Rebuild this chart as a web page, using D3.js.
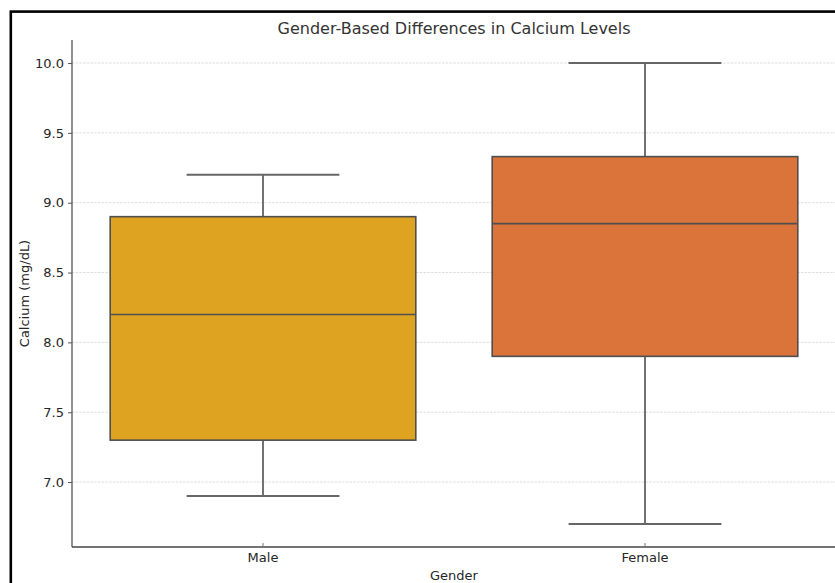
<!DOCTYPE html>
<html><head><meta charset="utf-8">
<script src="https://cdn.jsdelivr.net/npm/d3@7"></script>
<style>body{margin:0;background:#fff}svg{display:block}text{font-family:"DejaVu Sans",sans-serif}</style>
</head><body>
<svg id="c" width="835" height="583"></svg>
<script>
const categories = ["Male", "Female"];
const whiskerLow = [6.9, 6.7];
const q1 = [7.3, 7.9];
const median = [8.2, 8.85];
const q3 = [8.9, 9.33];
const whiskerHigh = [9.2, 10.0];
const colors = ["#dea321", "#da743a"];
const yTicks = [7.0, 7.5, 8.0, 8.5, 9.0, 9.5, 10.0];

const svg = d3.select("#c");
const m = {left: 72, right: 836, top: 40, bottom: 547};

// frame
svg.append("rect").attr("x", 10.8).attr("y", 11.6).attr("width", 900).attr("height", 700)
  .attr("fill", "none").attr("stroke", "#000").attr("stroke-width", 2.6);

const y = d3.scaleLinear().domain([6.535, 10.165]).range([m.bottom, m.top]);
const x = d3.scaleBand().domain(categories).range([m.left, m.right]).paddingInner(0.2).paddingOuter(0.1);
const xc = d => x(d) + x.bandwidth() / 2;
const step = x.step();

// grid
svg.append("g").selectAll("line").data(yTicks).join("line")
  .attr("x1", m.left).attr("x2", m.right)
  .attr("y1", d => y(d)).attr("y2", d => y(d))
  .attr("stroke", "#cfcfcf").attr("stroke-width", 0.7).attr("stroke-dasharray", "2.5,1.2");

const edge = "#4f4f4f";
const g = svg.append("g");
categories.forEach((c, i) => {
  const cx = xc(c);
  const capW = step * 0.4;
  g.append("line").attr("x1", cx).attr("x2", cx).attr("y1", y(q3[i])).attr("y2", y(whiskerHigh[i])).attr("stroke", edge).attr("stroke-width", 1.6);
  g.append("line").attr("x1", cx).attr("x2", cx).attr("y1", y(q1[i])).attr("y2", y(whiskerLow[i])).attr("stroke", edge).attr("stroke-width", 1.6);
  g.append("line").attr("x1", cx - capW / 2).attr("x2", cx + capW / 2).attr("y1", y(whiskerHigh[i])).attr("y2", y(whiskerHigh[i])).attr("stroke", "#666").attr("stroke-width", 2);
  g.append("line").attr("x1", cx - capW / 2).attr("x2", cx + capW / 2).attr("y1", y(whiskerLow[i])).attr("y2", y(whiskerLow[i])).attr("stroke", "#666").attr("stroke-width", 2);
  g.append("rect").attr("x", x(c)).attr("width", x.bandwidth())
    .attr("y", y(q3[i])).attr("height", y(q1[i]) - y(q3[i]))
    .attr("fill", colors[i]).attr("stroke", edge).attr("stroke-width", 1.6);
  g.append("line").attr("x1", x(c)).attr("x2", x(c) + x.bandwidth()).attr("y1", y(median[i])).attr("y2", y(median[i])).attr("stroke", edge).attr("stroke-width", 1.6);
});

// y axis
const ya = svg.append("g").attr("transform", `translate(${m.left},0)`)
  .call(d3.axisLeft(y).tickValues(yTicks).tickFormat(d3.format(".1f")).tickSize(4).tickPadding(4));
ya.select(".domain").attr("stroke", "#555").attr("stroke-width", 1.3).attr("d", `M0,${m.top}V${m.bottom}`);
ya.selectAll(".tick line").attr("stroke", "#555");
ya.selectAll("text").attr("font-size", 13).attr("fill", "#262626").attr("font-family", "DejaVu Sans");

// x axis
const xa = svg.append("g").attr("transform", `translate(0,${m.bottom})`)
  .call(d3.axisBottom(x).tickSize(-4).tickPadding(6));
xa.select(".domain").attr("stroke", "#444").attr("stroke-width", 1.3).attr("d", `M${m.left},0H${m.right}`);
xa.selectAll(".tick line").attr("stroke", "#777");
xa.selectAll("text").attr("font-size", 13).attr("fill", "#262626").attr("font-family", "DejaVu Sans");

// labels
svg.append("text").attr("x", (m.left + m.right) / 2).attr("y", 34).attr("text-anchor", "middle")
  .attr("font-size", 16).attr("fill", "#333").text("Gender-Based Differences in Calcium Levels");
svg.append("text").attr("x", (m.left + m.right) / 2).attr("y", 580).attr("text-anchor", "middle")
  .attr("font-size", 13).attr("fill", "#262626").text("Gender");
svg.append("text").attr("transform", `translate(29,${(m.top + m.bottom) / 2}) rotate(-90)`).attr("text-anchor", "middle")
  .attr("font-size", 13).attr("fill", "#262626").text("Calcium (mg/dL)");
</script>
</body></html>
